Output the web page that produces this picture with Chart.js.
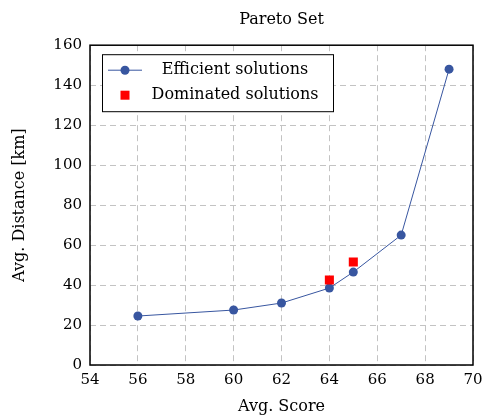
<!DOCTYPE html>
<html>
<head>
<meta charset="utf-8">
<script src="https://cdn.jsdelivr.net/npm/chart.js@4"></script>
<style>
  html, body { margin: 0; padding: 0; background: #fff; }
  #wrap { width: 486px; height: 418px; position: relative; }
</style>
</head>
<body>
<div id="wrap"><canvas id="chart"></canvas></div>
<script>
// ===== DATA =====
const effScores = [56, 60, 62, 64, 65, 67, 69];
const effDistances = [24.5, 27.5, 31, 38.5, 46.5, 65, 148];
const domScores = [64, 65];
const domDistances = [42.5, 51.5];
const xTicks = [54, 56, 58, 60, 62, 64, 66, 68, 70];
const yTicks = [0, 20, 40, 60, 80, 100, 120, 140, 160];

const blue = 'rgb(56, 86, 160)';
const red = '#ff0000';
const gridGray = 'rgb(195,195,195)';
const serif = "'DejaVu Serif', serif";

const toPoints = (xs, ys) => xs.map((x, i) => ({ x: x, y: ys[i] }));

// frame round the plot + legend inside the plot, pgfplots style
const framePlugin = {
  id: 'frame',
  afterDraw(chart) {
    const { ctx, chartArea: a } = chart;
    ctx.save();
    ctx.strokeStyle = '#000';
    ctx.lineWidth = 1.5;
    ctx.strokeRect(a.left, a.top, a.right - a.left, a.bottom - a.top);

    // legend box
    const bx = a.left + 12, by = a.top + 9, bw = 231, bh = 57;
    ctx.fillStyle = '#fff';
    ctx.fillRect(bx, by, bw, bh);
    ctx.lineWidth = 1;
    ctx.strokeRect(bx + 0.5, by + 0.5, bw, bh);

    const rows = chart.data.datasets;
    const textCx = bx + 133;
    rows.forEach((ds, i) => {
      const cy = by + 16 + i * 25;
      const mx = bx + 23;
      if (ds.showLine) {
        ctx.strokeStyle = ds.borderColor;
        ctx.lineWidth = 1;
        ctx.beginPath();
        ctx.moveTo(mx - 17, cy);
        ctx.lineTo(mx + 17, cy);
        ctx.stroke();
        ctx.fillStyle = ds.pointBackgroundColor;
        ctx.beginPath();
        ctx.arc(mx, cy, 4.5, 0, Math.PI * 2);
        ctx.fill();
      } else {
        ctx.fillStyle = ds.pointBackgroundColor;
        ctx.fillRect(mx - 4.5, cy - 4.5, 9, 9);
      }
      ctx.fillStyle = '#000';
      ctx.font = '16px ' + serif;
      ctx.textAlign = 'center';
      ctx.textBaseline = 'middle';
      ctx.fillText(ds.label, textCx, cy);
    });
    ctx.restore();
  }
};

new Chart(document.getElementById('chart'), {
  type: 'scatter',
  data: {
    datasets: [
      {
        label: 'Efficient solutions',
        data: toPoints(effScores, effDistances),
        showLine: true,
        borderColor: blue,
        borderWidth: 1,
        pointBackgroundColor: blue,
        pointBorderColor: blue,
        pointRadius: 4.5,
        pointBorderWidth: 0,
        tension: 0,
        order: 2
      },
      {
        label: 'Dominated solutions',
        data: toPoints(domScores, domDistances),
        showLine: false,
        pointStyle: 'rect',
        pointBackgroundColor: red,
        pointBorderColor: red,
        pointRadius: 6.4,
        pointBorderWidth: 0,
        order: 1
      }
    ]
  },
  options: {
    responsive: true,
    maintainAspectRatio: false,
    animation: false,
    layout: { padding: { right: 13, left: 0, top: 0, bottom: 0 } },
    plugins: {
      legend: { display: false },
      tooltip: { enabled: false },
      title: {
        display: true,
        fullSize: false,
        text: 'Pareto Set',
        color: '#000',
        font: { family: serif, size: 16, weight: 'normal' },
        padding: { top: 10, bottom: 16 }
      }
    },
    scales: {
      x: {
        type: 'linear',
        min: 54, max: 70,
        afterBuildTicks: s => { s.ticks = xTicks.map(v => ({ value: v })); },
        afterFit: s => { s.height = 53; s.paddingRight = 0; s.paddingLeft = 0; },
        border: { display: false, dash: [6, 4] },
        grid: { color: gridGray, lineWidth: 1, drawTicks: false },
        ticks: { color: '#000', padding: 6, font: { family: serif, size: 15 } },
        title: {
          display: true, text: 'Avg. Score', color: '#000',
          font: { family: serif, size: 16 }, padding: { top: 4, bottom: 2 }
        }
      },
      y: {
        type: 'linear',
        min: 0, max: 160,
        afterBuildTicks: s => { s.ticks = yTicks.map(v => ({ value: v })); },
        afterFit: s => { s.width = 90; },
        border: { display: false, dash: [6, 4] },
        grid: { color: gridGray, lineWidth: 1, drawTicks: false },
        ticks: { color: '#000', padding: 8, font: { family: serif, size: 15 } },
        title: {
          display: true, text: 'Avg. Distance [km]', color: '#000',
          font: { family: serif, size: 16 }, padding: { top: 10, bottom: 0 }
        }
      }
    }
  },
  plugins: [framePlugin]
});
</script>
</body>
</html>
